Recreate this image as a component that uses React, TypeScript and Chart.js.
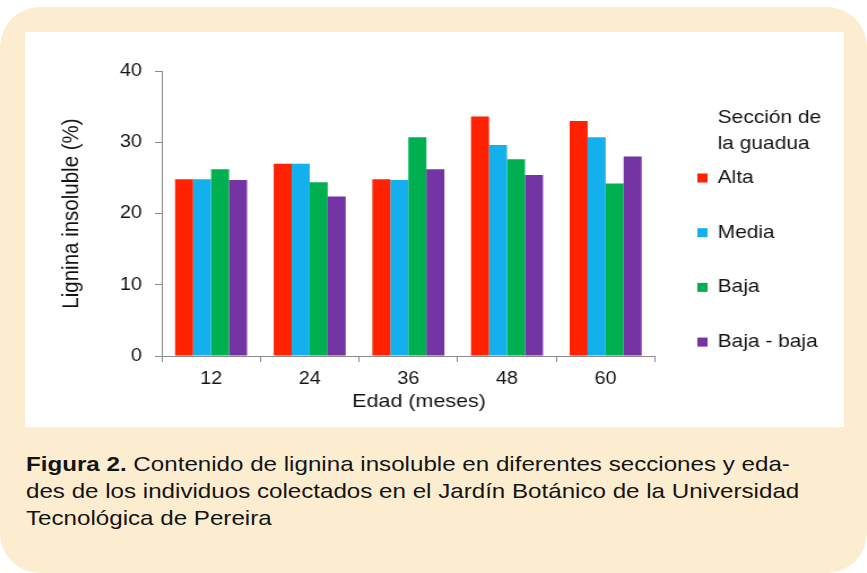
import React, { useEffect, useRef } from 'react';
import { Chart, registerables } from 'chart.js';

Chart.register(...registerables);

// ---- data ----
const categories = ['12', '24', '36', '48', '60'];
const seriesNames = ['Alta', 'Media', 'Baja', 'Baja - baja'];
const alta = [24.8, 27.0, 24.8, 33.6, 33.0];
const media = [24.8, 27.0, 24.7, 29.6, 30.7];
const baja = [26.2, 24.4, 30.7, 27.6, 24.2];
const bajaBaja = [24.7, 22.4, 26.2, 25.4, 28.0];
const yMin = 0;
const yMax = 40;
const yStep = 10;
const legendTitle = ['Sección de', 'la guadua'];
const xTitle = 'Edad (meses)';
const yTitle = 'Lignina insoluble (%)';
const captionBold = 'Figura 2.';
const captionLines = [
  ' Contenido de lignina insoluble en diferentes secciones y eda-',
  'des de los individuos colectados en el Jardín Botánico de la Universidad',
  'Tecnológica de Pereira',
];

// ---- style ----
const FONT = '"Liberation Sans", Arial, sans-serif';
const colors = ['#fe2200', '#14b0ee', '#00b050', '#7434a4'];
const TEXT = '#141414';
const AXIS = '#8a8a8a';
const BEIGE = '#fdedd0';
const SX = 1.13; // horizontal stretch of the chart picture
const CAP_SX = 1.15;
const CW = 725;
const CH = 395;

const sideLegend = {
  id: 'sideLegend',
  afterDraw(chart: any, _args: any, opts: any) {
    const { ctx, chartArea } = chart;
    ctx.save();
    ctx.textBaseline = 'middle';
    ctx.fillStyle = TEXT;
    // x axis title (slightly right of the plot centre, as in the original)
    ctx.font = `${opts.xTitleSize}px ${FONT}`;
    ctx.textAlign = 'center';
    ctx.fillText(
      opts.xTitle,
      (chartArea.left + chartArea.right) / 2 + opts.xTitleShift,
      chart.height - opts.xTitleFromBottom,
    );
    // legend
    ctx.font = `${opts.fontSize}px ${FONT}`;
    ctx.textAlign = 'left';
    (opts.title as string[]).forEach((t, i) => {
      ctx.fillText(t, opts.textX, opts.titleY + i * opts.titleLine);
    });
    chart.data.datasets.forEach((ds: any, i: number) => {
      const y = opts.itemY + i * opts.itemGap;
      ctx.fillStyle = ds.backgroundColor;
      ctx.fillRect(opts.boxX, y - opts.box / 2, opts.box, opts.box);
      ctx.fillStyle = TEXT;
      ctx.fillText(ds.label, opts.textX, y);
    });
    ctx.restore();
  },
};

function BarChart() {
  const ref = useRef<HTMLCanvasElement | null>(null);
  useEffect(() => {
    if (!ref.current) return;
    const seriesValues = [alta, media, baja, bajaBaja];
    const chart = new Chart(ref.current, {
      type: 'bar',
      data: {
        labels: categories,
        datasets: seriesNames.map((name, i) => ({
          label: name,
          data: seriesValues[i],
          backgroundColor: colors[i],
          borderWidth: 0,
          categoryPercentage: 0.73,
          barPercentage: 1.0,
        })),
      },
      options: {
        responsive: false,
        animation: false,
        devicePixelRatio: 1,
        layout: { padding: { left: 0, top: 39, right: 167.5, bottom: 0 } },
        plugins: {
          legend: { display: false },
          tooltip: { enabled: false },
          sideLegend: {
            fontSize: 18.5,
            title: legendTitle,
            textX: 613,
            boxX: 595,
            box: 9,
            titleY: 86,
            titleLine: 26,
            itemY: 146,
            itemGap: 54.7,
            xTitle: xTitle,
            xTitleSize: 19,
            xTitleShift: 9.5,
            xTitleFromBottom: 25,
          },
        } as any,
        scales: {
          x: {
            afterFit: (s: any) => {
              s.height = 71;
            },
            grid: {
              display: true,
              drawOnChartArea: false,
              drawTicks: true,
              tickLength: 6,
              color: AXIS,
              offset: true,
            },
            border: { display: true, color: AXIS, width: 1 },
            ticks: {
              color: TEXT,
              padding: 6.5,
              font: { family: FONT, size: 17.5 },
              maxRotation: 0,
            },
            title: { display: false },
          },
          y: {
            min: yMin,
            max: yMax,
            afterFit: (s: any) => {
              s.width = 121;
            },
            grid: {
              display: true,
              drawOnChartArea: false,
              drawTicks: true,
              tickLength: 6,
              color: AXIS,
            },
            border: { display: true, color: AXIS, width: 1 },
            ticks: {
              stepSize: yStep,
              color: TEXT,
              padding: 11.5,
              font: { family: FONT, size: 17.5 },
            },
            title: {
              display: true,
              text: yTitle,
              color: TEXT,
              font: { family: FONT, size: 20.5 },
              padding: { top: 29.3, bottom: 0 },
            },
          },
        },
      },
      plugins: [sideLegend as any],
    });
    return () => chart.destroy();
  }, []);
  return <canvas ref={ref} width={CW} height={CH} style={{ display: 'block' }} />;
}

export default function App() {
  return (
    <div
      style={{
        position: 'absolute',
        left: 0,
        top: 0,
        width: 867,
        height: 573,
        background: '#ffffff',
        overflow: 'hidden',
      }}
    >
      <div
        style={{
          position: 'absolute',
          left: 0,
          top: 7,
          width: 867,
          height: 566,
          background: BEIGE,
          borderRadius: 40,
        }}
      />
      <div
        style={{
          position: 'absolute',
          left: 25,
          top: 32,
          width: 819,
          height: 395,
          background: '#ffffff',
        }}
      />
      <div
        style={{
          position: 'absolute',
          left: 25,
          top: 32,
          width: CW,
          height: CH,
          transform: `scaleX(${SX})`,
          transformOrigin: '0 0',
        }}
      >
        <BarChart />
      </div>
      <div
        style={{
          position: 'absolute',
          left: 26,
          top: 450,
          fontFamily: FONT,
          fontSize: 21,
          lineHeight: '27px',
          color: TEXT,
          whiteSpace: 'nowrap',
          transform: `scaleX(${CAP_SX})`,
          transformOrigin: '0 0',
        }}
      >
        <div>
          <b>{captionBold}</b>
          {captionLines[0]}
        </div>
        <div>{captionLines[1]}</div>
        <div>{captionLines[2]}</div>
      </div>
    </div>
  );
}
